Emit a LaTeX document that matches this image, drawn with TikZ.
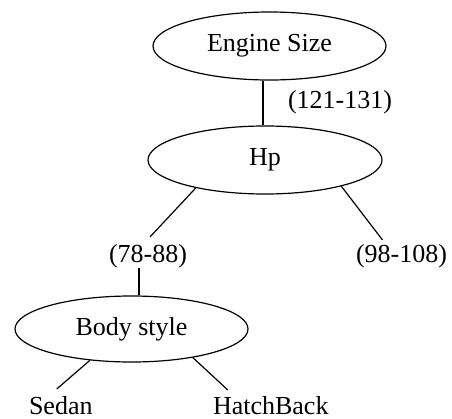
\documentclass[tikz,border=0pt]{standalone}
\usepackage{fontspec}
\setmainfont{Liberation Serif}
\usetikzlibrary{shapes.geometric}
\begin{document}
\begin{tikzpicture}[x=1pt,y=-1pt,line width=1.2pt,
  attr/.style={ellipse,draw,inner sep=0pt,minimum width=233pt,minimum height=68pt,
    font=\fontsize{26pt}{30pt}\selectfont},
  branch/.style={inner sep=0pt,outer sep=0pt,anchor=base west,
    font=\fontsize{26pt}{30pt}\selectfont}]
\useasboundingbox (0,0) rectangle (452,418);
% attribute nodes of the tree
\node[attr] (es) at (269.5,46) {Engine Size};
\node[attr,minimum width=234pt] (hp) at (265,160) {Hp};
\node[attr,minimum height=66pt] (body) at (131.5,329) {Body style};
% branch values
\node[branch] (r1) at (288,108) {(121-131)};
\node[branch] (r2) at (109,262) {(78-88)};
\node[branch] (r3) at (356,262) {(98-108)};
\node[branch] (sedan) at (29,414) {Sedan};
\node[branch] (hb) at (213,414) {HatchBack};
% edges
\draw ([xshift=-2pt]hp.north) -- ([xshift=-2pt]hp.north |- es.south);
\draw (hp.202) -- ([xshift=2pt,yshift=7pt]r2.north);
\draw (hp.341) -- ([xshift=-19pt,yshift=4pt]r3.north);
\draw ([xshift=-9pt]r2.south) -- ([xshift=-9pt]r2.south |- body.north);
\draw (body.217) -- ([xshift=-4pt,yshift=7pt]sedan.north);
\draw (body.335) -- ([xshift=-43pt,yshift=6pt]hb.north);
\end{tikzpicture}
\end{document}
